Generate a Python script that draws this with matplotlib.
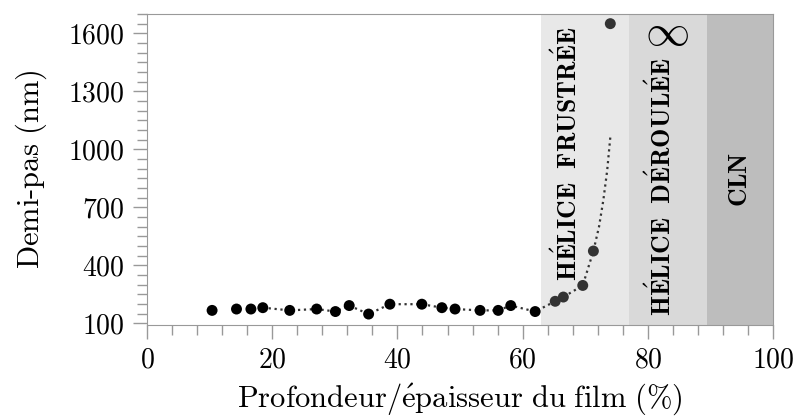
import numpy as np
import matplotlib
matplotlib.use("Agg")
from matplotlib import pyplot as plt
from matplotlib.ticker import MultipleLocator

# mesures : profondeur relative (%) et demi-pas (nm)
depth = [10.4, 14.3, 16.6, 18.5, 22.8, 27.1, 30.1, 32.3, 35.4, 38.8, 43.9, 47.1,
         49.2, 53.2, 56.1, 58.1, 62.0, 65.2, 66.5, 69.6, 71.3, 74.0]
half_pitch = [167, 174, 174, 181, 167, 174, 161, 192, 148, 199, 199, 181,
              174, 167, 167, 192, 161, 214, 236, 296, 474, 1650]

# guide pointille
guide_x = [18.5, 22.8, 27.1, 30.1, 32.3, 35.4, 38.8, 43.9, 47.1, 49.2, 53.2, 56.1,
           58.1, 62.0, 65.2, 66.5, 69.6, 71.3, 72.2, 72.9, 73.5, 74.0]
guide_y = [181, 167, 174, 161, 192, 148, 199, 199, 181, 174, 167, 167,
           192, 161, 214, 236, 296, 474, 600, 740, 890, 1062]

# zones
zone_edges = [63, 77, 89.5, 100]
zone_colors = ["#e8e8e8", "#d9d9d9", "#bdbdbd"]
zone_labels = [r"$\mathbf{H\acute{E}LICE\ \ FRUSTR\acute{E}E}$",
               r"$\mathbf{H\acute{E}LICE\ \ D\acute{E}ROUL\acute{E}E}$",
               r"$\mathbf{CLN}$"]
zone_label_pos = [(67.0, 980), (82.0, 805), (94.7, 847)]

plt.rcParams['font.family'] = ['cmr10', 'DejaVu Serif']
plt.rcParams['mathtext.fontset'] = 'cm'
plt.rcParams['axes.formatter.use_mathtext'] = True

fig = plt.figure(figsize=(7.97, 4.2), dpi=100)
ax = fig.add_axes([0.1844, 0.226, 0.7856, 0.7407])

for i in range(3):
    ax.axvspan(zone_edges[i], zone_edges[i + 1], color=zone_colors[i], lw=0, zorder=0)
    ax.text(zone_label_pos[i][0], zone_label_pos[i][1], zone_labels[i], rotation=90,
            ha="center", va="center", fontsize=18.5, zorder=3)
ax.text(83.1, 1598, r"$\infty$", ha="center", va="center", fontsize=32, zorder=3)

ax.plot(guide_x, guide_y, ":", color="#333333", lw=1.6, zorder=2)
cols = ["black" if d < 63 else "#333333" for d in depth]
ax.scatter(depth, half_pitch, s=62, c=cols, zorder=4, linewidths=0)

ax.set_xlim(0, 100)
ax.set_ylim(91, 1700)
ax.set_xticks([0, 20, 40, 60, 80, 100])
ax.set_yticks([100, 400, 700, 1000, 1300, 1600])
ax.xaxis.set_minor_locator(MultipleLocator(4))
ax.yaxis.set_minor_locator(MultipleLocator(50))
ax.tick_params(which="major", length=10, width=1, color="#999999", labelsize=20, pad=6)
ax.tick_params(which="minor", length=7, width=1, color="#999999")
for s in ax.spines.values():
    s.set_color("#999999")

ax.set_xlabel(r"$\mathrm{Profondeur/\acute{e}paisseur\ du\ film\ (\%)}$", fontsize=22, labelpad=6)
ax.set_ylabel(r"$\mathrm{Demi}$-$\mathrm{pas\ (nm)}$", fontsize=22, labelpad=14)

plt.savefig("out.png", dpi=100)
